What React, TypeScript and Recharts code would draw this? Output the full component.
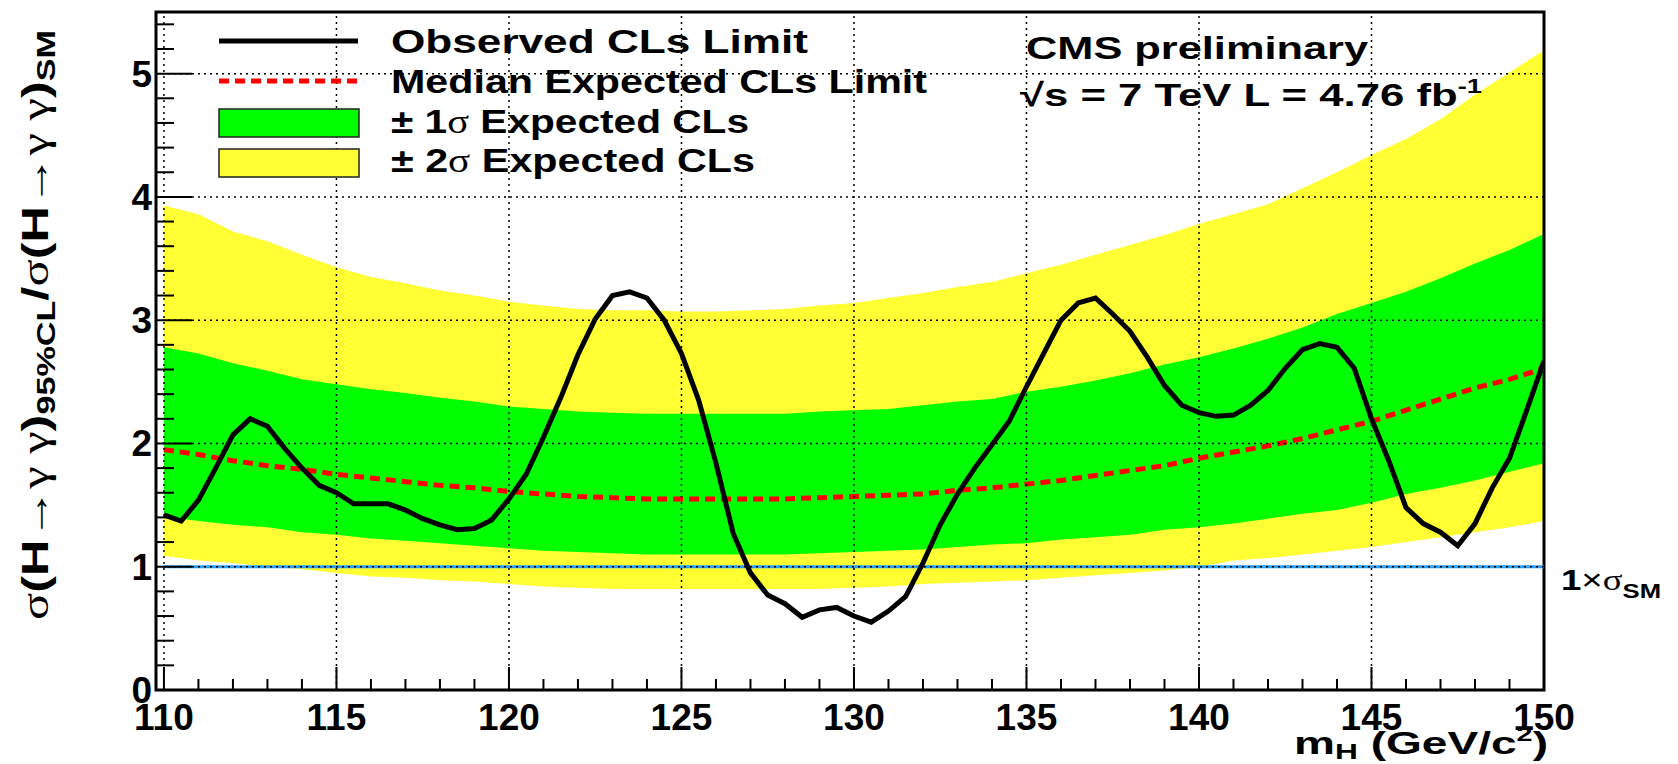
import React from 'react';
import {
  ComposedChart,
  Area,
  Line,
  XAxis,
  YAxis,
  ReferenceLine,
  ReferenceArea,
  Legend,
} from 'recharts';

// expected-limit bands, read at every GeV
const massPoints = [
  110, 111, 112, 113, 114, 115, 116, 117, 118, 119, 120, 121, 122, 123, 124, 125, 126, 127, 128, 129,
  130, 131, 132, 133, 134, 135, 136, 137, 138, 139, 140, 141, 142, 143, 144, 145, 146, 147, 148, 149, 150,
];
const minus2Sigma = [
  1.09, 1.05, 1.03, 1.0, 0.98, 0.95, 0.92, 0.91, 0.89, 0.88, 0.86, 0.84, 0.83, 0.82, 0.82, 0.82, 0.82, 0.82, 0.82, 0.82,
  0.83, 0.84, 0.86, 0.87, 0.88, 0.89, 0.91, 0.93, 0.95, 0.97, 1.0, 1.05, 1.07, 1.1, 1.13, 1.16, 1.2, 1.24, 1.28, 1.32, 1.37,
];
const minus1Sigma = [
  1.41, 1.37, 1.34, 1.32, 1.28, 1.26, 1.23, 1.21, 1.19, 1.17, 1.15, 1.13, 1.12, 1.11, 1.1, 1.1, 1.1, 1.1, 1.1, 1.11,
  1.12, 1.13, 1.14, 1.16, 1.18, 1.19, 1.22, 1.24, 1.26, 1.3, 1.32, 1.35, 1.39, 1.43, 1.46, 1.52, 1.59, 1.64, 1.7, 1.77, 1.84,
];
const medianExpected = [
  1.95, 1.91, 1.86, 1.82, 1.79, 1.75, 1.72, 1.69, 1.66, 1.64, 1.61, 1.59, 1.57, 1.56, 1.55, 1.55, 1.55, 1.55, 1.55, 1.56,
  1.57, 1.58, 1.59, 1.62, 1.64, 1.67, 1.7, 1.74, 1.78, 1.82, 1.88, 1.93, 1.98, 2.04, 2.11, 2.18, 2.27, 2.36, 2.45, 2.52, 2.61,
];
const plus1Sigma = [
  2.78, 2.73, 2.65, 2.59, 2.52, 2.48, 2.44, 2.41, 2.37, 2.34, 2.3, 2.28, 2.26, 2.25, 2.24, 2.24, 2.24, 2.24, 2.24, 2.26,
  2.27, 2.28, 2.31, 2.34, 2.36, 2.42, 2.46, 2.51, 2.57, 2.64, 2.7, 2.77, 2.85, 2.94, 3.05, 3.14, 3.23, 3.34, 3.46, 3.57, 3.7,
];
const plus2Sigma = [
  3.93, 3.86, 3.72, 3.64, 3.53, 3.43, 3.35, 3.3, 3.24, 3.2, 3.15, 3.12, 3.09, 3.08, 3.08, 3.07, 3.07, 3.08, 3.09, 3.12,
  3.14, 3.18, 3.22, 3.27, 3.31, 3.38, 3.45, 3.53, 3.61, 3.69, 3.78, 3.86, 3.94, 4.07, 4.2, 4.34, 4.47, 4.63, 4.83, 5.01, 5.19,
];

// observed limit, every 0.5 GeV
const obsMass = [
  110, 110.5, 111, 111.5, 112, 112.5, 113, 113.5, 114, 114.5, 115, 115.5, 116, 116.5, 117, 117.5, 118, 118.5, 119, 119.5,
  120, 120.5, 121, 121.5, 122, 122.5, 123, 123.5, 124, 124.5, 125, 125.5, 126, 126.5, 127, 127.5, 128, 128.5, 129, 129.5,
  130, 130.5, 131, 131.5, 132, 132.5, 133, 133.5, 134, 134.5, 135, 135.5, 136, 136.5, 137, 137.5, 138, 138.5, 139, 139.5,
  140, 140.5, 141, 141.5, 142, 142.5, 143, 143.5, 144, 144.5, 145, 145.5, 146, 146.5, 147, 147.5, 148, 148.5, 149, 149.5,
  150,
];
const obsLimit = [
  1.42, 1.37, 1.54, 1.8, 2.07, 2.2, 2.14, 1.96, 1.8, 1.66, 1.6, 1.51, 1.51, 1.51, 1.46, 1.39, 1.34, 1.3, 1.31, 1.38,
  1.55, 1.75, 2.05, 2.37, 2.72, 3.01, 3.2, 3.23, 3.18, 3.0, 2.73, 2.35, 1.84, 1.27, 0.95, 0.77, 0.7, 0.59, 0.65, 0.67,
  0.6, 0.55, 0.64, 0.76, 1.03, 1.34, 1.59, 1.8, 1.99, 2.18, 2.46, 2.73, 3.0, 3.14, 3.18, 3.05, 2.91, 2.7, 2.47, 2.31,
  2.25, 2.22, 2.23, 2.31, 2.43, 2.61, 2.76, 2.81, 2.78, 2.61, 2.2, 1.86, 1.48, 1.35, 1.28, 1.17, 1.35, 1.64, 1.88, 2.27,
  2.67,
];

const xTicks = [
  110, 111, 112, 113, 114, 115, 116, 117, 118, 119, 120, 121, 122, 123, 124, 125, 126, 127, 128, 129,
  130, 131, 132, 133, 134, 135, 136, 137, 138, 139, 140, 141, 142, 143, 144, 145, 146, 147, 148, 149, 150,
];
const xLabels = [110, 115, 120, 125, 130, 135, 140, 145, 150];
const yTicks = [
  0, 0.2, 0.4, 0.6, 0.8, 1, 1.2, 1.4, 1.6, 1.8, 2, 2.2, 2.4, 2.6, 2.8, 3, 3.2, 3.4, 3.6, 3.8, 4, 4.2, 4.4, 4.6, 4.8, 5,
  5.2, 5.4,
];
const yLabels = [0, 1, 2, 3, 4, 5];
const xGrid = [110, 115, 120, 125, 130, 135, 140, 145];
const yGrid = [1, 2, 3, 4, 5];
const smLevel = 1;

const bandData = massPoints.map((m, i) => ({
  mass: m,
  two: [minus2Sigma[i], plus2Sigma[i]],
  one: [minus1Sigma[i], plus1Sigma[i]],
  median: medianExpected[i],
}));
const obsData = obsMass.map((m, i) => ({ mass: m, limit: obsLimit[i] }));

const FONT = '"Liberation Sans", Arial, Helvetica, sans-serif';
const GREEK = '"Liberation Serif", "DejaVu Serif", serif';
const YELLOW = '#ffff33';
const GREEN = '#00ff00';

const XTick = (props: any) => {
  const { x, y, payload } = props;
  const major = xLabels.includes(payload.value);
  return (
    <g>
      <line x1={x} x2={x} y1={y} y2={y - (major ? 23 : 11)} stroke="#000" strokeWidth={2} />
      {major && (
        <text x={x} y={y + 40} textAnchor="middle" fontFamily={FONT} fontWeight="bold" fontSize={37} fill="#000">
          {payload.value}
        </text>
      )}
    </g>
  );
};

const YTick = (props: any) => {
  const { x, y, payload } = props;
  const major = yLabels.includes(payload.value);
  return (
    <g>
      <line x1={x} x2={x + (major ? 36 : 18)} y1={y} y2={y} stroke="#000" strokeWidth={2} />
      {major && (
        <text x={x - 4} y={y + 13} textAnchor="end" fontFamily={FONT} fontWeight="bold" fontSize={37} fill="#000">
          {payload.value}
        </text>
      )}
    </g>
  );
};

const LegendBox = () => (
  <svg width={760} height={170} style={{ display: 'block' }}>
    <line x1={19} x2={158} y1={23} y2={23} stroke="#000" strokeWidth={5} />
    <line x1={19} x2={158} y1={63} y2={63} stroke="#ff0000" strokeWidth={5} strokeDasharray="10 6" />
    <rect x={19} y={91} width={140} height={28} fill={GREEN} stroke="#222" strokeWidth={1.5} />
    <rect x={19} y={131} width={140} height={28} fill={YELLOW} stroke="#222" strokeWidth={1.5} />
    <g fontFamily={FONT} fontWeight="bold" fontSize={33} fill="#000">
      <text x={191} y={35} textLength={417} lengthAdjust="spacingAndGlyphs">Observed CLs Limit</text>
      <text x={191} y={75} textLength={536} lengthAdjust="spacingAndGlyphs">Median Expected CLs Limit</text>
      <text x={191} y={115} textLength={358} lengthAdjust="spacingAndGlyphs">
        ± 1<tspan fontFamily={GREEK} fontWeight="normal">σ</tspan> Expected CLs
      </text>
      <text x={191} y={154} textLength={364} lengthAdjust="spacingAndGlyphs">
        ± 2<tspan fontFamily={GREEK} fontWeight="normal">σ</tspan> Expected CLs
      </text>
    </g>
  </svg>
);

export default function App() {
  return (
    <div style={{ position: 'absolute', left: 0, top: 0, width: 1678, height: 764, background: '#fff' }}>
      <ComposedChart width={1678} height={764} margin={{ top: 12, right: 134, bottom: 14, left: 56 }}>
        <XAxis
          type="number"
          dataKey="mass"
          domain={[109.77, 150]}
          ticks={xTicks}
          interval={0}
          tickSize={0}
          tickMargin={0}
          tick={XTick}
          axisLine={false}
          height={60}
          allowDataOverflow
        />
        <YAxis
          type="number"
          domain={[0, 5.5]}
          ticks={yTicks}
          interval={0}
          tickSize={0}
          tickMargin={0}
          tick={YTick}
          axisLine={false}
          width={100}
          allowDataOverflow
        />
        <Legend
          content={() => <LegendBox />}
          layout="horizontal"
          verticalAlign="middle"
          align="center"
          wrapperStyle={{ left: 200, top: 18, width: 760, height: 170 }}
        />
        <Area
          data={bandData}
          dataKey="two"
          type="linear"
          stroke="none"
          fill={YELLOW}
          fillOpacity={1}
          dot={false}
          activeDot={false}
          isAnimationActive={false}
        />
        <Area
          data={bandData}
          dataKey="one"
          type="linear"
          stroke="none"
          fill={GREEN}
          fillOpacity={1}
          dot={false}
          activeDot={false}
          isAnimationActive={false}
        />
        <ReferenceLine
          segment={[
            { x: 110, y: smLevel },
            { x: 150, y: smLevel },
          ]}
          stroke="#2a9df4"
          strokeWidth={3}
        />
        <Line
          data={bandData}
          dataKey="median"
          type="linear"
          stroke="#ff0000"
          strokeWidth={5}
          strokeDasharray="10 6"
          dot={false}
          activeDot={false}
          isAnimationActive={false}
        />
        <Line
          data={obsData}
          dataKey="limit"
          type="linear"
          stroke="#000"
          strokeWidth={5}
          dot={false}
          activeDot={false}
          isAnimationActive={false}
        />
        {xGrid.map((v) => (
          <ReferenceLine key={'gx' + v} x={v} stroke="#000" strokeWidth={1.5} strokeDasharray="2 4" />
        ))}
        {yGrid.map((v) => (
          <ReferenceLine key={'gy' + v} y={v} stroke="#000" strokeWidth={1.5} strokeDasharray="2 4" />
        ))}
        <ReferenceArea x1={109.77} x2={150} y1={0} y2={5.5} fill="none" stroke="#000" strokeWidth={3} />
      </ComposedChart>

      <svg
        width={1678}
        height={764}
        style={{ position: 'absolute', left: 0, top: 0, pointerEvents: 'none' }}
        fontFamily={FONT}
        fontWeight="bold"
        fill="#000"
      >
        <text x={1026} y={59} fontSize={31} textLength={342} lengthAdjust="spacingAndGlyphs">
          CMS preliminary
        </text>
        <text x={1020} y={106} fontSize={32} textLength={462} lengthAdjust="spacingAndGlyphs">
          √s = 7 TeV L = 4.76 fb<tspan dy={-13} fontSize={20}>-1</tspan>
        </text>
        <text x={1561} y={590} fontSize={30} textLength={100} lengthAdjust="spacingAndGlyphs">
          1<tspan fontWeight="normal">×</tspan>
          <tspan fontFamily={GREEK} fontWeight="normal">σ</tspan>
          <tspan dy={8} fontSize={21}>SM</tspan>
        </text>
        <text x={1548} y={754} fontSize={32} textAnchor="end" textLength={254} lengthAdjust="spacingAndGlyphs">
          m<tspan dy={5} fontSize={22}>H</tspan>
          <tspan dy={-5}> (GeV/c</tspan>
          <tspan dy={-13} fontSize={20}>2</tspan>
          <tspan dy={13}>)</tspan>
        </text>
        <text
          transform="rotate(-90)"
          x={-325}
          y={48}
          fontSize={37}
          textAnchor="middle"
          textLength={590}
          lengthAdjust="spacingAndGlyphs"
        >
          <tspan fontFamily={GREEK} fontWeight="normal">σ</tspan>(H
          <tspan fontWeight="normal">→</tspan>
          <tspan fontFamily={GREEK} fontWeight="normal">γ γ</tspan>)
          <tspan dy={7} fontSize={25}>95%CL</tspan>
          <tspan dy={-7}>/</tspan>
          <tspan fontFamily={GREEK} fontWeight="normal">σ</tspan>(H
          <tspan fontWeight="normal">→</tspan>
          <tspan fontFamily={GREEK} fontWeight="normal">γ γ</tspan>)
          <tspan dy={7} fontSize={25}>SM</tspan>
        </text>
      </svg>
    </div>
  );
}
